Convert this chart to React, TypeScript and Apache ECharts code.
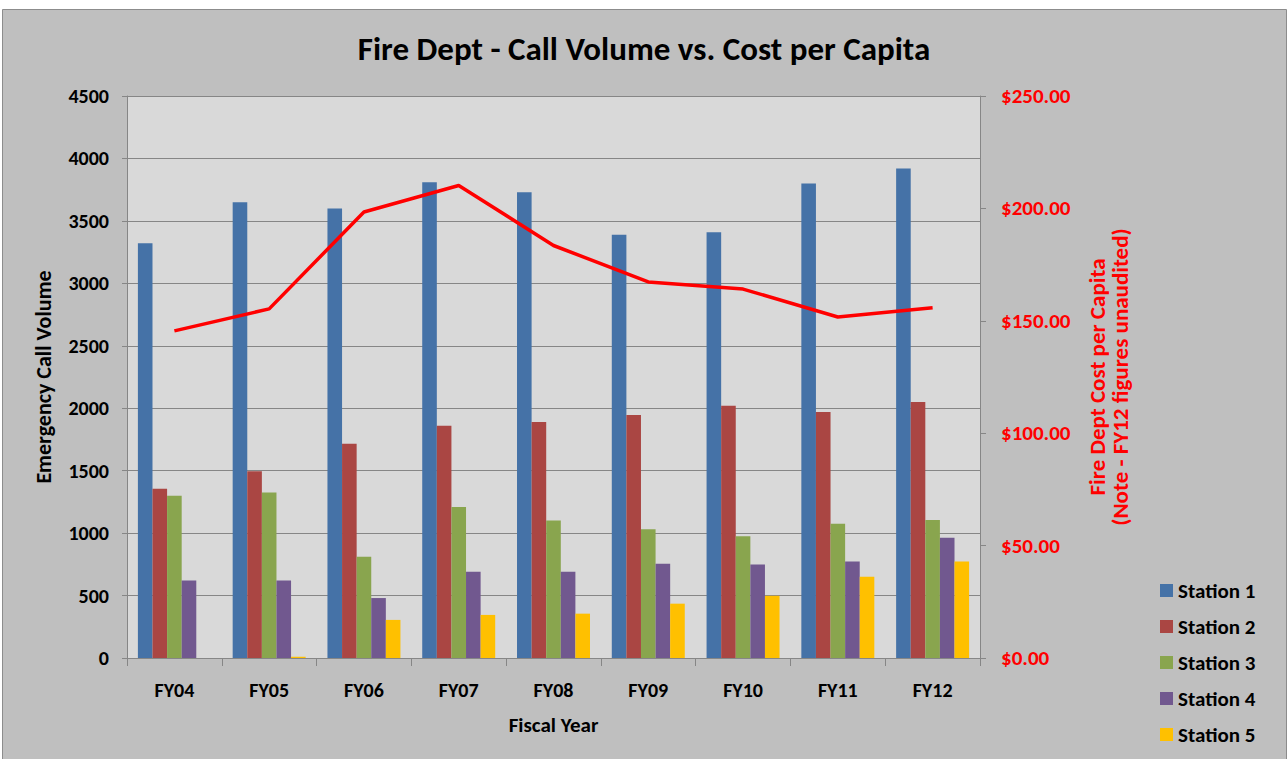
import React, { useEffect, useRef } from "react";
import * as echarts from "echarts";

const categories = ["FY04", "FY05", "FY06", "FY07", "FY08", "FY09", "FY10", "FY11", "FY12"];
const station1 = [3320, 3650, 3600, 3810, 3730, 3390, 3410, 3800, 3920];
const station2 = [1355, 1495, 1715, 1860, 1890, 1945, 2020, 1970, 2050];
const station3 = [1300, 1325, 810, 1210, 1100, 1030, 975, 1075, 1105];
const station4 = [620, 620, 480, 690, 690, 755, 748, 772, 962];
const station5 = [0, 10, 305, 345, 355, 435, 498, 650, 772];
const costPerCapita = [145.5, 155.3, 198.4, 210.2, 183.5, 167.3, 164.1, 151.7, 155.8];

const stationNames = ["Station 1", "Station 2", "Station 3", "Station 4", "Station 5"];
const stationColors = ["#4572A7", "#AA4643", "#89A54E", "#71588F", "#FFC000"];

const FONT = "Carlito, Calibri, Lato, 'Open Sans', sans-serif";

export default function App() {
  const ref = useRef<HTMLDivElement>(null);
  useEffect(() => {
    if (!ref.current) return;
    const chart = echarts.init(ref.current, undefined, { renderer: "svg" });
    const stationData = [station1, station2, station3, station4, station5];
    chart.setOption({
      animation: false,
      backgroundColor: "#ffffff",
      textStyle: { fontFamily: FONT },
      graphic: [
        {
          type: "rect",
          z: -10,
          silent: true,
          shape: { x: 2.5, y: 9.5, width: 1284, height: 752 },
          style: { fill: "#bfbfbf", stroke: "#8c8c8c", lineWidth: 1 },
        },
      ],
      title: {
        text: "Fire Dept - Call Volume vs. Cost per Capita",
        left: "center",
        top: 27,
        textStyle: { fontFamily: FONT, fontSize: 33, fontWeight: "bold", color: "#000" },
      },
      legend: {
        data: stationNames,
        orient: "vertical",
        left: 1155,
        top: 575,
        itemWidth: 13,
        itemHeight: 13,
        itemGap: 15,
        icon: "rect",
        textStyle: { fontFamily: FONT, fontSize: 21, fontWeight: "bold", color: "#000" },
      },
      grid: {
        left: 127,
        right: 308,
        top: 96,
        bottom: 101,
        show: true,
        backgroundColor: "#d9d9d9",
        borderWidth: 0,
      },
      xAxis: {
        type: "category",
        data: categories,
        name: "Fiscal Year",
        nameLocation: "middle",
        nameGap: 56,
        nameTextStyle: { fontFamily: FONT, fontSize: 21, fontWeight: "bold", color: "#000" },
        axisLine: { lineStyle: { color: "#868686", width: 1 } },
        axisTick: { show: true, length: 8, lineStyle: { color: "#868686" } },
        axisLabel: { fontFamily: FONT, fontSize: 20, fontWeight: "bold", color: "#000", margin: 22 },
      },
      yAxis: [
        {
          type: "value",
          min: 0,
          max: 4500,
          interval: 500,
          name: "Emergency Call Volume",
          nameLocation: "middle",
          nameRotate: 90,
          nameGap: 73,
          nameTextStyle: { fontFamily: FONT, fontSize: 22, fontWeight: "bold", color: "#000" },
          axisLine: { show: true, lineStyle: { color: "#868686" } },
          axisTick: { show: true, length: 5, lineStyle: { color: "#868686" } },
          axisLabel: {
            fontFamily: FONT,
            fontSize: 20,
            fontWeight: "bold",
            color: "#000",
            margin: 18,
            formatter: (v: number) => String(v),
          },
          splitLine: { show: true, lineStyle: { color: "#868686", width: 1 } },
        },
        {
          type: "value",
          min: 0,
          max: 250,
          interval: 50,
          position: "right",
          name: "Fire Dept Cost per Capita\n(Note - FY12 figures unaudited)",
          nameLocation: "middle",
          nameRotate: 90,
          nameGap: 105,
          nameTextStyle: {
            fontFamily: FONT,
            fontSize: 23,
            fontWeight: "bold",
            color: "#ff0000",
            lineHeight: 23,
          },
          axisLine: { show: true, lineStyle: { color: "#868686" } },
          axisTick: { show: true, length: 6, lineStyle: { color: "#868686" } },
          axisLabel: {
            fontFamily: FONT,
            fontSize: 21,
            fontWeight: "bold",
            color: "#ff0000",
            margin: 21,
            formatter: (v: number) => "$" + v.toFixed(2),
          },
          splitLine: { show: false },
        },
      ],
      series: [
        ...stationNames.map((name, i) => ({
          name,
          type: "bar",
          data: stationData[i],
          barGap: "0%",
          barCategoryGap: "23%",
          itemStyle: { color: stationColors[i] },
        })),
        {
          name: "Cost per Capita",
          type: "line",
          yAxisIndex: 1,
          data: costPerCapita,
          symbol: "none",
          lineStyle: { color: "#ff0000", width: 3.5 },
          itemStyle: { color: "#ff0000" },
          z: 5,
        },
      ],
    });
    return () => chart.dispose();
  }, []);
  return (
    <div
      ref={ref}
      style={{ position: "absolute", left: 0, top: 0, width: 1288, height: 759 }}
    />
  );
}
